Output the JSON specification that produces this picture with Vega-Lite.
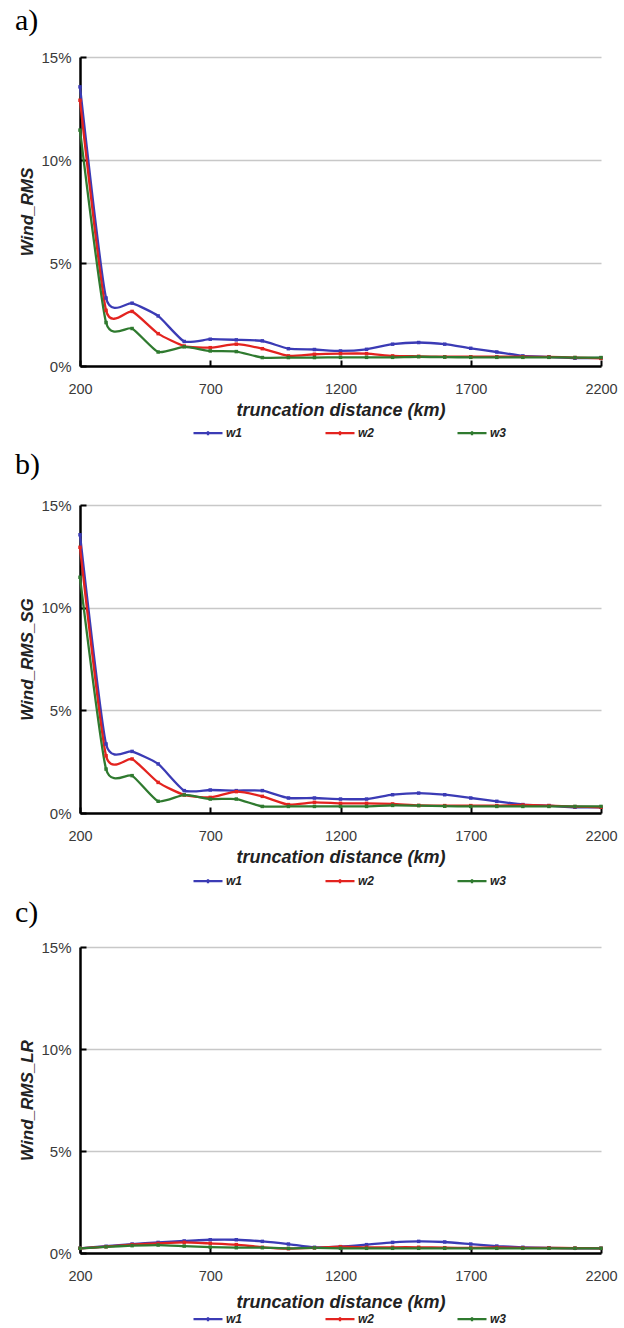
{
  "$schema": "https://vega.github.io/schema/vega-lite/v6.json",
  "background": "white",
  "padding": {"left": 15, "top": 6, "right": 5, "bottom": 0},
  "spacing": 10,
  "config": {
    "view": {"stroke": null},
    "font": "Liberation Sans",
    "axis": {
      "labelFont": "Liberation Sans",
      "labelColor": "#3a3a3a",
      "titleFont": "Liberation Sans",
      "titleFontWeight": "bold",
      "titleFontStyle": "italic",
      "titleColor": "#222222",
      "domainColor": "#000000",
      "domainWidth": 2.5,
      "tickColor": "#000000",
      "tickWidth": 2,
      "tickSize": -6
    },
    "axisX": {"labelFontSize": 14.5, "labelPadding": 22, "labelFlush": false, "titleFontSize": 18, "titlePadding": 6, "grid": false, "format": "d"},
    "axisY": {"labelFontSize": 15, "labelPadding": 15, "titleFontSize": 17, "titlePadding": 4, "grid": true, "gridColor": "#c8c8c8", "gridWidth": 1.5},
    "legend": {"title": null, "orient": "none", "direction": "horizontal", "symbolType": "M-1,0H1M0,-0.14V0.14", "symbolSize": 841, "symbolStrokeWidth": 2.5, "labelFont": "Liberation Sans", "labelFontSize": 12, "labelFontWeight": "bold", "labelFontStyle": "italic", "labelColor": "#222222", "columnPadding": 77, "labelOffset": 2},
    "title": {"font": "Liberation Serif", "fontSize": 30, "fontWeight": "normal", "color": "#000000", "anchor": "start", "frame": "group"},
    "line": {"interpolate": "cardinal", "tension": 0.45, "strokeWidth": 2.3},
    "point": {"shape": "square", "filled": true, "size": 12, "opacity": 1}
  },
  "resolve": {"legend": {"color": "independent"}},
  "data": {"values": [
    {"panel": "a", "d": 200, "w1": 13.55, "w2": 12.9, "w3": 11.45},
    {"panel": "a", "d": 300, "w1": 3.3, "w2": 2.7, "w3": 2.11},
    {"panel": "a", "d": 400, "w1": 3.05, "w2": 2.65, "w3": 1.82},
    {"panel": "a", "d": 500, "w1": 2.43, "w2": 1.57, "w3": 0.68},
    {"panel": "a", "d": 600, "w1": 1.19, "w2": 0.97, "w3": 0.93},
    {"panel": "a", "d": 700, "w1": 1.3, "w2": 0.89, "w3": 0.73},
    {"panel": "a", "d": 800, "w1": 1.27, "w2": 1.06, "w3": 0.7},
    {"panel": "a", "d": 900, "w1": 1.22, "w2": 0.84, "w3": 0.41},
    {"panel": "a", "d": 1000, "w1": 0.84, "w2": 0.49, "w3": 0.41},
    {"panel": "a", "d": 1100, "w1": 0.8, "w2": 0.57, "w3": 0.41},
    {"panel": "a", "d": 1200, "w1": 0.73, "w2": 0.6, "w3": 0.42},
    {"panel": "a", "d": 1300, "w1": 0.81, "w2": 0.6, "w3": 0.42},
    {"panel": "a", "d": 1400, "w1": 1.06, "w2": 0.49, "w3": 0.42},
    {"panel": "a", "d": 1500, "w1": 1.14, "w2": 0.47, "w3": 0.45},
    {"panel": "a", "d": 1600, "w1": 1.06, "w2": 0.45, "w3": 0.43},
    {"panel": "a", "d": 1700, "w1": 0.86, "w2": 0.45, "w3": 0.42},
    {"panel": "a", "d": 1800, "w1": 0.68, "w2": 0.45, "w3": 0.42},
    {"panel": "a", "d": 1900, "w1": 0.49, "w2": 0.45, "w3": 0.42},
    {"panel": "a", "d": 2000, "w1": 0.44, "w2": 0.44, "w3": 0.42},
    {"panel": "a", "d": 2100, "w1": 0.38, "w2": 0.41, "w3": 0.41},
    {"panel": "a", "d": 2200, "w1": 0.39, "w2": 0.37, "w3": 0.41},
    {"panel": "b", "d": 200, "w1": 13.55, "w2": 12.94, "w3": 11.48},
    {"panel": "b", "d": 300, "w1": 3.36, "w2": 2.79, "w3": 2.14},
    {"panel": "b", "d": 400, "w1": 3.0, "w2": 2.63, "w3": 1.82},
    {"panel": "b", "d": 500, "w1": 2.39, "w2": 1.49, "w3": 0.57},
    {"panel": "b", "d": 600, "w1": 1.09, "w2": 0.88, "w3": 0.88},
    {"panel": "b", "d": 700, "w1": 1.12, "w2": 0.76, "w3": 0.68},
    {"panel": "b", "d": 800, "w1": 1.09, "w2": 1.04, "w3": 0.68},
    {"panel": "b", "d": 900, "w1": 1.09, "w2": 0.81, "w3": 0.32},
    {"panel": "b", "d": 1000, "w1": 0.73, "w2": 0.41, "w3": 0.32},
    {"panel": "b", "d": 1100, "w1": 0.73, "w2": 0.52, "w3": 0.32},
    {"panel": "b", "d": 1200, "w1": 0.68, "w2": 0.47, "w3": 0.32},
    {"panel": "b", "d": 1300, "w1": 0.68, "w2": 0.47, "w3": 0.32},
    {"panel": "b", "d": 1400, "w1": 0.89, "w2": 0.44, "w3": 0.37},
    {"panel": "b", "d": 1500, "w1": 0.97, "w2": 0.37, "w3": 0.36},
    {"panel": "b", "d": 1600, "w1": 0.89, "w2": 0.36, "w3": 0.33},
    {"panel": "b", "d": 1700, "w1": 0.73, "w2": 0.36, "w3": 0.32},
    {"panel": "b", "d": 1800, "w1": 0.57, "w2": 0.36, "w3": 0.32},
    {"panel": "b", "d": 1900, "w1": 0.41, "w2": 0.39, "w3": 0.32},
    {"panel": "b", "d": 2000, "w1": 0.36, "w2": 0.36, "w3": 0.32},
    {"panel": "b", "d": 2100, "w1": 0.28, "w2": 0.31, "w3": 0.32},
    {"panel": "b", "d": 2200, "w1": 0.28, "w2": 0.28, "w3": 0.32},
    {"panel": "c", "d": 200, "w1": 0.23, "w2": 0.23, "w3": 0.23},
    {"panel": "c", "d": 300, "w1": 0.33, "w2": 0.31, "w3": 0.3},
    {"panel": "c", "d": 400, "w1": 0.44, "w2": 0.41, "w3": 0.36},
    {"panel": "c", "d": 500, "w1": 0.52, "w2": 0.47, "w3": 0.39},
    {"panel": "c", "d": 600, "w1": 0.59, "w2": 0.52, "w3": 0.34},
    {"panel": "c", "d": 700, "w1": 0.65, "w2": 0.47, "w3": 0.29},
    {"panel": "c", "d": 800, "w1": 0.65, "w2": 0.41, "w3": 0.26},
    {"panel": "c", "d": 900, "w1": 0.57, "w2": 0.28, "w3": 0.26},
    {"panel": "c", "d": 1000, "w1": 0.44, "w2": 0.21, "w3": 0.23},
    {"panel": "c", "d": 1100, "w1": 0.28, "w2": 0.25, "w3": 0.25},
    {"panel": "c", "d": 1200, "w1": 0.31, "w2": 0.31, "w3": 0.23},
    {"panel": "c", "d": 1300, "w1": 0.41, "w2": 0.28, "w3": 0.23},
    {"panel": "c", "d": 1400, "w1": 0.52, "w2": 0.28, "w3": 0.23},
    {"panel": "c", "d": 1500, "w1": 0.57, "w2": 0.28, "w3": 0.23},
    {"panel": "c", "d": 1600, "w1": 0.54, "w2": 0.26, "w3": 0.23},
    {"panel": "c", "d": 1700, "w1": 0.44, "w2": 0.25, "w3": 0.23},
    {"panel": "c", "d": 1800, "w1": 0.34, "w2": 0.27, "w3": 0.23},
    {"panel": "c", "d": 1900, "w1": 0.28, "w2": 0.25, "w3": 0.23},
    {"panel": "c", "d": 2000, "w1": 0.25, "w2": 0.25, "w3": 0.23},
    {"panel": "c", "d": 2100, "w1": 0.23, "w2": 0.24, "w3": 0.23},
    {"panel": "c", "d": 2200, "w1": 0.23, "w2": 0.23, "w3": 0.23}
  ]},
  "vconcat": [
    {
      "title": {"text": "a)", "dx": -65, "offset": 14},
      "width": 521, "height": 309,
      "transform": [{"filter": "datum.panel == 'a'"}, {"fold": ["w1", "w2", "w3"], "as": ["series", "v"]}],
      "encoding": {
        "x": {"field": "d", "type": "quantitative", "scale": {"domain": [200, 2200], "nice": false}, "axis": {"values": [200, 700, 1200, 1700, 2200], "title": "truncation distance (km)"}},
        "y": {"field": "v", "type": "quantitative", "scale": {"domain": [0, 15], "nice": false}, "axis": {"values": [0, 5, 10, 15], "labelExpr": "datum.value + '%'", "title": "Wind_RMS"}},
        "color": {"field": "series", "type": "nominal", "scale": {"domain": ["w1", "w2", "w3"], "range": ["#3b3bb5", "#e3231f", "#2f7a2f"]},
          "legend": {"legendX": 112, "legendY": 360}}
      },
      "layer": [
        {"mark": {"type": "line"}},
        {"mark": {"type": "point"}}
      ]
    },
    {
      "title": {"text": "b)", "dx": -65, "offset": 18},
      "width": 521, "height": 308,
      "transform": [{"filter": "datum.panel == 'b'"}, {"fold": ["w1", "w2", "w3"], "as": ["series", "v"]}],
      "encoding": {
        "x": {"field": "d", "type": "quantitative", "scale": {"domain": [200, 2200], "nice": false}, "axis": {"values": [200, 700, 1200, 1700, 2200], "title": "truncation distance (km)"}},
        "y": {"field": "v", "type": "quantitative", "scale": {"domain": [0, 15], "nice": false}, "axis": {"values": [0, 5, 10, 15], "labelExpr": "datum.value + '%'", "title": "Wind_RMS_SG"}},
        "color": {"field": "series", "type": "nominal", "scale": {"domain": ["w1", "w2", "w3"], "range": ["#3b3bb5", "#e3231f", "#2f7a2f"]},
          "legend": {"legendX": 112, "legendY": 360}}
      },
      "layer": [
        {"mark": {"type": "line"}},
        {"mark": {"type": "point"}}
      ]
    },
    {
      "title": {"text": "c)", "dx": -65, "offset": 12},
      "width": 521, "height": 306,
      "transform": [{"filter": "datum.panel == 'c'"}, {"fold": ["w1", "w2", "w3"], "as": ["series", "v"]}],
      "encoding": {
        "x": {"field": "d", "type": "quantitative", "scale": {"domain": [200, 2200], "nice": false}, "axis": {"values": [200, 700, 1200, 1700, 2200], "title": "truncation distance (km)", "titlePadding": 11}},
        "y": {"field": "v", "type": "quantitative", "scale": {"domain": [0, 15], "nice": false}, "axis": {"values": [0, 5, 10, 15], "labelExpr": "datum.value + '%'", "title": "Wind_RMS_LR"}},
        "color": {"field": "series", "type": "nominal", "scale": {"domain": ["w1", "w2", "w3"], "range": ["#3b3bb5", "#e3231f", "#2f7a2f"]},
          "legend": {"legendX": 112, "legendY": 356}}
      },
      "layer": [
        {"mark": {"type": "line"}},
        {"mark": {"type": "point"}}
      ]
    }
  ]
}
